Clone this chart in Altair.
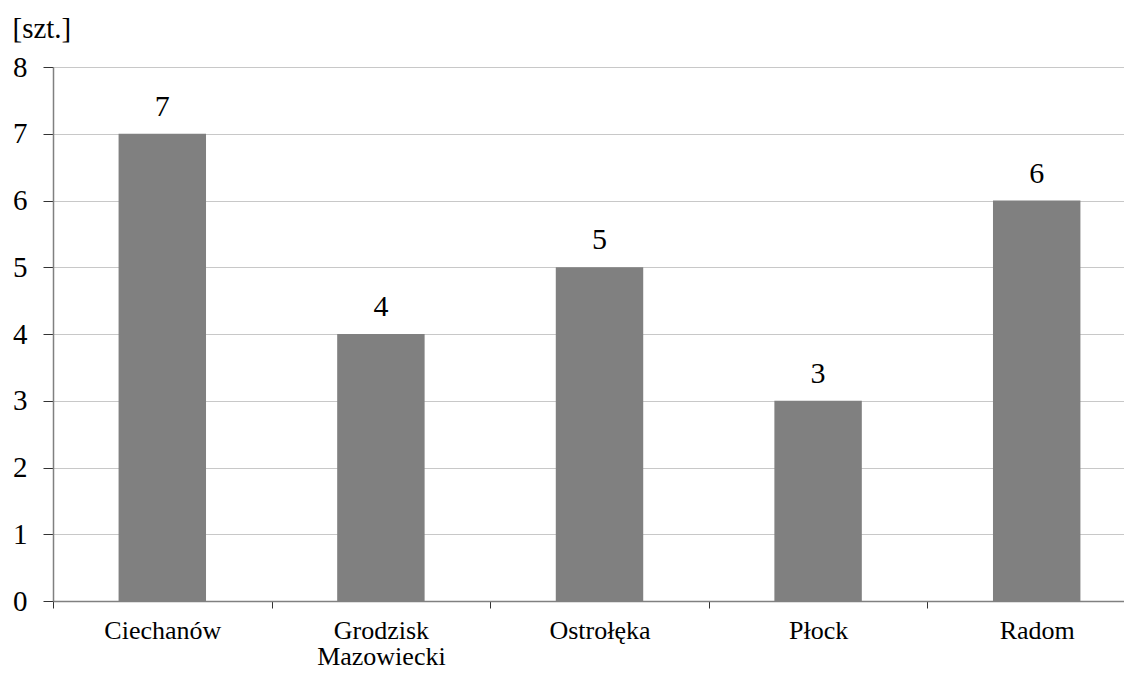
import altair as alt
import pandas as pd

cities = ["Ciechanów", "Grodzisk Mazowiecki", "Ostrołęka", "Płock", "Radom"]
counts = [7, 4, 5, 3, 6]

df = pd.DataFrame({"city": cities, "count": counts})

FONT = "Liberation Serif, Times New Roman, serif"

x = alt.X(
    "city:N",
    sort=cities,
    scale=alt.Scale(range=[0, 1093], paddingInner=0, paddingOuter=0),
    axis=alt.Axis(
        title=None,
        labelAngle=0,
        labelFont=FONT,
        labelFontSize=26,
        labelColor="#000000",
        labelBaseline="top",
        labelPadding=9,
        labelLineHeight=26,
        labelExpr="split(datum.label, ' ')",
        tickBand="extent",
        tickSize=7,
        tickColor="#333333",
        domainColor="#808080",
        domainWidth=1.5,
        grid=False,
    ),
)

y = alt.Y(
    "count:Q",
    scale=alt.Scale(domain=[0, 8], nice=False),
    axis=alt.Axis(
        title="[szt.]",
        titleAngle=0,
        titleAlign="left",
        titleBaseline="alphabetic",
        titleX=-41,
        titleY=-30,
        titleFont=FONT,
        titleFontSize=29,
        titleFontWeight="normal",
        titleColor="#000000",
        values=[0, 1, 2, 3, 4, 5, 6, 7, 8],
        format="d",
        labelFont=FONT,
        labelFontSize=29,
        labelColor="#000000",
        labelPadding=16,
        tickSize=10,
        tickColor="#333333",
        domainColor="#808080",
        domainWidth=1.5,
        gridColor="#c8c8c8",
        gridWidth=1,
    ),
)

bars = alt.Chart(df).mark_bar(
    color="#808080", width=alt.RelativeBandSize(0.4)
).encode(x=x, y=y)

labels = alt.Chart(df).mark_text(
    font=FONT, fontSize=30, color="#000000", baseline="alphabetic", dy=-18
).encode(x=alt.X("city:N", sort=cities), y="count:Q", text="count:Q")

chart = (
    alt.layer(bars, labels)
    .properties(
        width=1071,
        height=534,
        autosize=alt.AutoSizeParams(type="none"),
        padding={"left": 45, "top": 59, "right": 0, "bottom": 64},
    )
    .configure_view(stroke=None)
    .configure(background="white")
)

chart.save("out.html", embed_options={"renderer": "svg", "actions": False})
